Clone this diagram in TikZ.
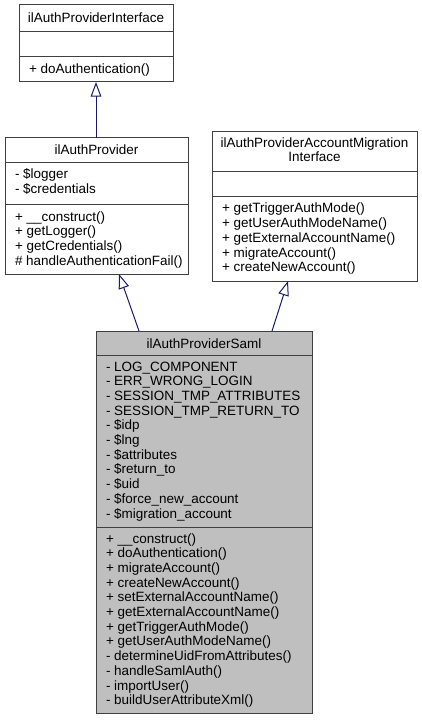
\documentclass[tikz,border=0pt]{standalone}
\usepackage{fontspec}
\setmainfont{Liberation Sans}
\usetikzlibrary{arrows.meta,calc}
\definecolor{edgeblue}{HTML}{191970}
\definecolor{boxline}{HTML}{404040}
\definecolor{boxfill}{HTML}{BFBFBF}
\begin{document}
\begin{tikzpicture}[x=0.75pt,y=-0.75pt,
  box/.style={draw=boxline, line width=0.75pt, fill=white, rectangle, anchor=north west, inner sep=0pt, outer sep=0pt},
  txt/.style={anchor=base west, inner sep=0pt, outer sep=0pt, font=\fontsize{10.1pt}{11pt}\selectfont},
  ttl/.style={anchor=base, inner sep=0pt, outer sep=0pt, font=\fontsize{10.1pt}{11pt}\selectfont},
  sepline/.style={draw=boxline, line width=0.75pt},
  inh/.style={draw=edgeblue, line width=0.75pt, -{Triangle[open, length=11pt, width=8pt]}}]
\useasboundingbox (0,0) rectangle (421,720);

% Box 1: ilAuthProviderInterface
\node[box, minimum width=154*0.75pt, minimum height=77*0.75pt] (b1) at (19,5) {};
\draw[sepline] ($(b1.north west)+(0,27)$) -- ($(b1.north east)+(0,27)$);
\draw[sepline] ($(b1.north west)+(0,52)$) -- ($(b1.north east)+(0,52)$);
\node[ttl] (b1t) at (96,23) {ilAuthProviderInterface};
\node[txt] (b1m1) at (29,74) {+ doAuthentication()};

% Box 2: ilAuthProvider
\node[box, minimum width=183*0.75pt, minimum height=136*0.75pt] (b2) at (5,138) {};
\draw[sepline] ($(b2.north west)+(0,25)$) -- ($(b2.north east)+(0,25)$);
\draw[sepline] ($(b2.north west)+(0,67)$) -- ($(b2.north east)+(0,67)$);
\node[ttl] (b2t) at (96.5,155) {ilAuthProvider};
\foreach \t [count=\i] in {{- \$logger},{- \$credentials}}
  \node[txt] (b2a\i) at (15,{179+(\i-1)*14.7}) {\t};
\foreach \t [count=\i] in {{+ \_\_construct()},{+ getLogger()},{+ getCredentials()},{\# handleAuthenticationFail()}}
  \node[txt] (b2m\i) at (15,{221+(\i-1)*14.7}) {\t};

% Box 3: ilAuthProviderAccountMigrationInterface
\node[box, minimum width=205*0.75pt, minimum height=149*0.75pt] (b3) at (212,132) {};
\draw[sepline] ($(b3.north west)+(0,40)$) -- ($(b3.north east)+(0,40)$);
\draw[sepline] ($(b3.north west)+(0,65)$) -- ($(b3.north east)+(0,65)$);
\node[ttl] (b3t1) at (314.5,147.5) {ilAuthProviderAccountMigration};
\node[ttl] (b3t2) at (314.5,162) {Interface};
\foreach \t [count=\i] in {{+ getTriggerAuthMode()},{+ getUserAuthModeName()},{+ getExternalAccountName()},{+ migrateAccount()},{+ createNewAccount()}}
  \node[txt] (b3m\i) at (222,{213+(\i-1)*14.7}) {\t};

% Box 4: ilAuthProviderSaml
\node[box, fill=boxfill, minimum width=216*0.75pt, minimum height=382*0.75pt] (b4) at (96,331) {};
\draw[sepline] ($(b4.north west)+(0,24)$) -- ($(b4.north east)+(0,24)$);
\draw[sepline] ($(b4.north west)+(0,196)$) -- ($(b4.north east)+(0,196)$);
\node[ttl] (b4t) at (204,348) {ilAuthProviderSaml};
\foreach \t [count=\i] in {{- LOG\_COMPONENT},{- ERR\_WRONG\_LOGIN},{- SESSION\_TMP\_ATTRIBUTES},{- SESSION\_TMP\_RETURN\_TO},{- \$idp},{- \$lng},{- \$attributes},{- \$return\_to},{- \$uid},{- \$force\_new\_account},{- \$migration\_account}}
  \node[txt] (b4a\i) at (106,{371+(\i-1)*14.7}) {\t};
\foreach \t [count=\i] in {{+ \_\_construct()},{+ doAuthentication()},{+ migrateAccount()},{+ createNewAccount()},{+ setExternalAccountName()},{+ getExternalAccountName()},{+ getTriggerAuthMode()},{+ getUserAuthModeName()},{- determineUidFromAttributes()},{- handleSamlAuth()},{- importUser()},{- buildUserAttributeXml()}}
  \node[txt] (b4m\i) at (106,{543+(\i-1)*14.7}) {\t};

% Inheritance connectors
\draw[inh] ($(b2.north west)+(91,0)$) -- ($(b1.south west)+(77,0)$);
\draw[inh] ($(b4.north west)+(43,0)$) -- ($(b2.south west)+(114,0)$);
\draw[inh] ($(b4.north west)+(176,0)$) -- ($(b3.south west)+(76,0)$);
\end{tikzpicture}
\end{document}
